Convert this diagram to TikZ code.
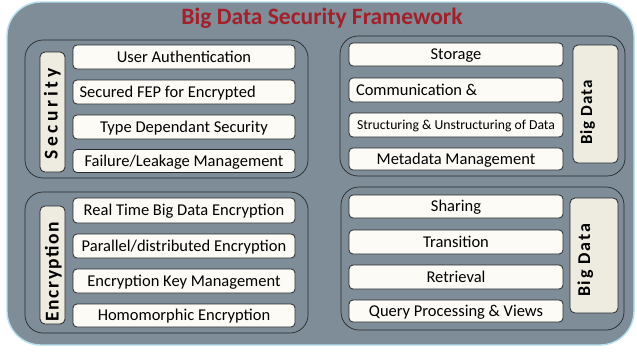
\documentclass[tikz,border=0pt]{standalone}
\usepackage{fontspec}
\setmainfont{Carlito}
\definecolor{bgfill}{HTML}{7E8D98}
\definecolor{rimblue}{HTML}{B3DEEC}
\definecolor{itemfill}{HTML}{FCFBF6}
\definecolor{lblfill}{HTML}{EEEBE0}
\definecolor{titlered}{HTML}{A3202A}
\definecolor{edgedark}{HTML}{25292C}
\tikzset{
  outerbox/.style={draw=rimblue, line width=1.4pt, fill=bgfill, rounded corners=34pt},
  groupbox/.style={draw=edgedark, line width=0.7pt, rounded corners=18pt, inner sep=0pt},
  lblbox/.style={draw=edgedark, line width=0.8pt, fill=lblfill, rounded corners=5pt, inner sep=0pt},
  item/.style={draw=edgedark, line width=0.8pt, fill=itemfill, rounded corners=4pt, inner sep=0pt,
    text height=10.6pt, text depth=0pt, font=\fontsize{16.5}{18}\selectfont},
  lbltext/.style={rotate=90, anchor=base, inner sep=0pt},
}
\begin{document}
\begin{tikzpicture}[x=1pt,y=-1pt]
\useasboundingbox (0,0) rectangle (637,351);
\path[outerbox] (7,2) rectangle (634,345);
\node[anchor=base, inner sep=0pt, text=titlered, font=\bfseries\fontsize{23.5}{26}\selectfont] (title) at (322,24) {Big Data Security Framework};

% groups
\node[groupbox, minimum width=283pt, minimum height=138pt] (gtl) at (166.5,109) {};
\node[groupbox, minimum width=285pt, minimum height=140pt] (gtr) at (482.5,106) {};
\node[groupbox, minimum width=283pt, minimum height=141pt] (gbl) at (166.5,262.5) {};
\node[groupbox, minimum width=283pt, minimum height=143pt] (gbr) at (482.5,258.5) {};

% label boxes
\node[lblbox, minimum width=25pt, minimum height=120pt] (lsec) at (52.5,112) {};
\node[lblbox, minimum width=25pt, minimum height=118pt] (lenc) at (52.5,265) {};
\node[lblbox, minimum width=45pt, minimum height=118pt] (lbd1) at (595.5,104) {};
\node[lblbox, minimum width=48pt, minimum height=115pt] (lbd2) at (594,255.5) {};

\node[lbltext, font=\bfseries\fontsize{19.5}{22}\selectfont\addfontfeatures{LetterSpace=19}] (tsec) at (57.5,114) {Security};
\node[lbltext, font=\bfseries\fontsize{19.5}{22}\selectfont\addfontfeatures{LetterSpace=8}] (tenc) at (58.5,271.5) {Encryption};
\node[lbltext, font=\bfseries\fontsize{17}{20}\selectfont\addfontfeatures{LetterSpace=6}] (tbd1) at (592,112.5) {Big Data};
\node[lbltext, font=\bfseries\fontsize{18}{21}\selectfont\addfontfeatures{LetterSpace=10}] (tbd2) at (590,260.5) {Big Data};

% top-left items
\node[item, minimum width=222pt, minimum height=24pt] (s1) at (184,57) {User Authentication};
\node[item, minimum width=222pt, minimum height=24pt] (s2) at (184,92) {\makebox[209pt][l]{Secured FEP for Encrypted}};
\node[item, minimum width=222pt, minimum height=24pt] (s3) at (184,127) {Type Dependant Security};
\node[item, minimum width=222pt, minimum height=23pt] (s4) at (184,161) {Failure/Leakage Management};

% bottom-left items
\node[item, minimum width=222pt, minimum height=25pt] (e1) at (184,210.5) {Real Time Big Data Encryption};
\node[item, minimum width=222pt, minimum height=24pt] (e2) at (184,246) {Parallel/distributed Encryption};
\node[item, minimum width=222pt, minimum height=24pt] (e3) at (184,281) {Encryption Key Management};
\node[item, minimum width=222pt, minimum height=23pt] (e4) at (184,315.5) {Homomorphic Encryption};

% top-right items
\node[item, minimum width=214pt, minimum height=23pt] (b1) at (456,54.5) {Storage};
\node[item, minimum width=214pt, minimum height=24pt] (b2) at (456,90) {\makebox[200pt][l]{Communication \&}};
\node[item, minimum width=214pt, minimum height=24pt, text height=8.8pt, font=\fontsize{13.7}{16}\selectfont] (b3) at (456,125) {Structuring \& Unstructuring of Data};
\node[item, minimum width=214pt, minimum height=22pt] (b4) at (456,159) {Metadata Management};

% bottom-right items
\node[item, minimum width=214pt, minimum height=23pt] (c1) at (456,206.5) {Sharing};
\node[item, minimum width=214pt, minimum height=24pt] (c2) at (456,242) {Transition};
\node[item, minimum width=214pt, minimum height=24pt] (c3) at (456,277) {Retrieval};
\node[item, minimum width=214pt, minimum height=22pt] (c4) at (456,311) {Query Processing \& Views};
\end{tikzpicture}
\end{document}
